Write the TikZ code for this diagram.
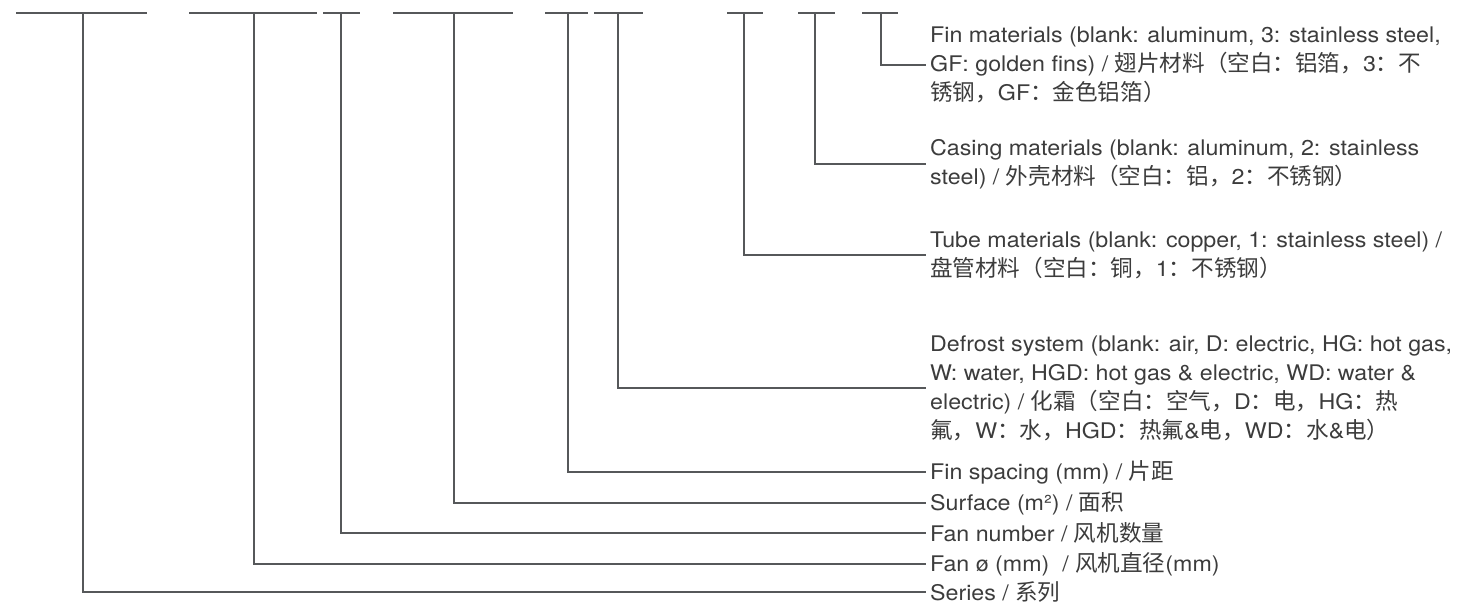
\documentclass[tikz,border=0pt]{standalone}
\usepackage{fontspec}
\setmainfont[FakeStretch=1.08]{TeX Gyre Heros}
\newfontfamily\cjk[Scale=1.05]{Noto Sans CJK SC}
\newcommand{\zh}[1]{{\cjk #1}}
\usetikzlibrary{positioning}
\definecolor{linegray}{HTML}{56585A}
\definecolor{txtgray}{HTML}{3C3C3C}
\tikzset{
  codebar/.style={draw=linegray, line width=2pt},
  lead/.style={draw=linegray, line width=2pt},
  lab/.style={anchor=west, inner sep=4pt, align=left, text=txtgray,
              font=\fontsize{21.5}{29}\selectfont},
}

\begin{document}
\begin{tikzpicture}[x=1pt, y=-1pt]
  \useasboundingbox (0,0) rectangle (1465,604);
  % code segments
  \draw[codebar] (16,13) -- (147,13);
  \draw[codebar] (189,13) -- (317,13);
  \draw[codebar] (323,13) -- (360,13);
  \draw[codebar] (393,13) -- (513,13);
  \draw[codebar] (545,13) -- (588,13);
  \draw[codebar] (594,13) -- (643,13);
  \draw[codebar] (727,13) -- (763,13);
  \draw[codebar] (798,13) -- (835,13);
  \draw[codebar] (862,13) -- (898,13);
  \coordinate (s1) at (83,13);
  \coordinate (s2) at (254,13);
  \coordinate (s3) at (341,13);
  \coordinate (s4) at (454,13);
  \coordinate (s5) at (568,13);
  \coordinate (s6) at (618,13);
  \coordinate (s7) at (744,13);
  \coordinate (s8) at (815,13);
  \coordinate (s9) at (881,13);
  % labels
  \node[lab] (fin) at (926,65) {Fin materials (blank: aluminum, 3: stainless steel,\\
    GF: golden fins) / \zh{翅片材料（空白：铝箔，}3\zh{：不}\\
    \zh{锈钢，}GF\zh{：金色铝箔）}};
  \node[lab] (casing) at (926,164) {Casing materials (blank: aluminum, 2: stainless\\
    steel) / \zh{外壳材料（空白：铝，}2\zh{：不锈钢）}};
  \node[lab] (tube) at (926,255) {Tube materials (blank: copper, 1: stainless steel) /\\
    \zh{盘管材料（空白：铜，}1\zh{：不锈钢）}};
  \node[lab] (defrost) at (926,388) {Defrost system (blank: air, D: electric, HG: hot gas,\\
    W: water, HGD: hot gas \& electric, WD: water \&\\
    electric) / \zh{化霜（空白：空气，}D\zh{：电，}HG\zh{：热}\\
    \zh{氟，}W\zh{：水，}HGD\zh{：热氟}\&\zh{电，}WD\zh{：水}\&\zh{电）}};
  \node[lab] (spacing) at (926,472) {Fin spacing (mm) / \zh{片距}};
  \node[lab] (surface) at (926,503) {Surface (m²) / \zh{面积}};
  \node[lab] (fannum) at (926,533) {Fan number / \zh{风机数量}};
  \node[lab] (fandia) at (926,564) {Fan ø (mm) \ / \zh{风机直径}(mm)};
  \node[lab] (series) at (926,592) {Series / \zh{系列}};
  % leaders
  \draw[lead] (s1) |- (series.west);
  \draw[lead] (s2) |- (fandia.west);
  \draw[lead] (s3) |- (fannum.west);
  \draw[lead] (s4) |- (surface.west);
  \draw[lead] (s5) |- (spacing.west);
  \draw[lead] (s6) |- (defrost.west);
  \draw[lead] (s7) |- (tube.west);
  \draw[lead] (s8) |- (casing.west);
  \draw[lead] (s9) |- (fin.west);
\end{tikzpicture}
\end{document}
